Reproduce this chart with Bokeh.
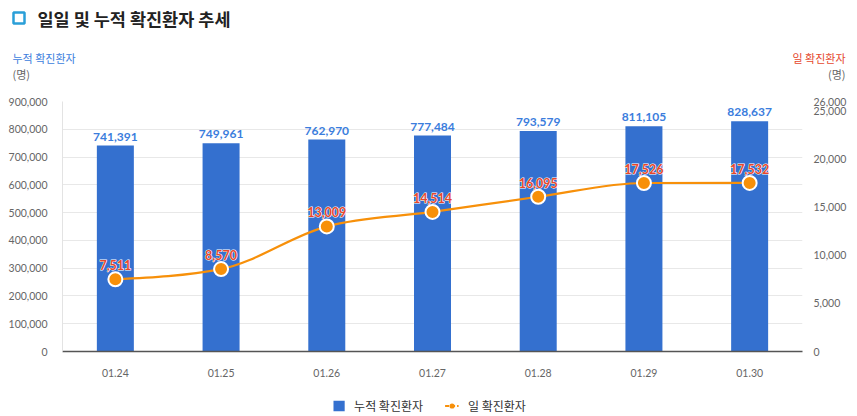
from bokeh.plotting import figure
from bokeh.models import (LinearAxis, Range1d, FixedTicker, NumeralTickFormatter,
                          Legend, LegendItem)
from bokeh.layouts import column, row
from bokeh.core.properties import value
from bokeh.embed import file_html
from bokeh.resources import INLINE

categories = ["01.24", "01.25", "01.26", "01.27", "01.28", "01.29", "01.30"]
cumulative = [741391, 749961, 762970, 777484, 793579, 811105, 828637]
daily = [7511, 8570, 13009, 14514, 16095, 17526, 17532]
left_ticks = [0, 100000, 200000, 300000, 400000, 500000, 600000, 700000, 800000, 900000]
right_ticks = [0, 5000, 10000, 15000, 20000, 25000, 26000]

title_text = "일일 및 누적 확진환자 추세"
left_title = "누적 확진환자"
right_title = "일 확진환자"
unit_text = "(명)"

KR = "Noto Sans CJK KR"
NUM = "Lato"
BAR_C = "#3470cf"
LINE_C = "#f7900a"
BLUE_T = "#3b7ddd"
RED_T = "#e5472d"
W = 857
HEAD_H, MAIN_H, LEG_H = 85, 300, 31
NAN = float("nan")


def bare(fig):
    fig.outline_line_color = None
    fig.border_fill_color = "white"
    fig.xaxis.visible = False
    fig.yaxis.visible = False
    fig.xgrid.visible = False
    fig.ygrid.visible = False


# ---------- header (titles) ----------
hd = figure(width=W, height=HEAD_H, x_range=Range1d(0, W), y_range=Range1d(HEAD_H, 0),
            output_backend="svg", toolbar_location=None, min_border=0)
bare(hd)
hd.quad(left=[13], right=[24], top=[12], bottom=[23], fill_alpha=0,
        line_color="#2a9fd8", line_width=2.5)
hd.text(x=[37], y=[18], text=[title_text], text_font=value(KR), text_font_size="17.5px",
        text_font_style="bold", text_color="#222222", text_baseline="middle")
hd.text(x=[12, 12], y=[57, 73], text=[left_title, unit_text], text_font=value(KR),
        text_font_size="11px", text_color=[BLUE_T, "#666666"], text_baseline="middle")
hd.text(x=[845, 845], y=[57, 73], text=[right_title, unit_text], text_font=value(KR),
        text_font_size="11px", text_color=[RED_T, "#666666"], text_baseline="middle",
        text_align="right")

# ---------- main chart ----------
xs = list(range(len(categories)))
p = figure(width=W, height=MAIN_H, x_range=Range1d(-0.5, len(categories) - 0.5),
           y_range=Range1d(0, 900000), output_backend="svg", toolbar_location=None,
           min_border_left=62, min_border_right=55, min_border_top=16, min_border_bottom=34)
p.outline_line_color = None
p.border_fill_color = "white"
p.extra_y_ranges = {"right": Range1d(0, 26000)}

p.xaxis.ticker = FixedTicker(ticks=xs)
p.xaxis.major_label_overrides = {i: c for i, c in enumerate(categories)}
p.xaxis.axis_line_color = "#555555"
p.xaxis.axis_line_width = 1.5
p.xaxis.major_tick_line_color = None
p.xaxis.minor_tick_line_color = None
p.xaxis.major_label_text_font = NUM
p.xaxis.major_label_text_font_size = "10.5px"
p.xaxis.major_label_text_color = "#666666"
p.xaxis.major_label_standoff = 11

p.yaxis.ticker = FixedTicker(ticks=left_ticks)
p.yaxis.formatter = NumeralTickFormatter(format="0,0")
p.yaxis.axis_line_color = "#e3e3e3"
p.yaxis.major_tick_line_color = None
p.yaxis.minor_tick_line_color = None
p.yaxis.major_label_text_font = NUM
p.yaxis.major_label_text_font_size = "10.5px"
p.yaxis.major_label_text_color = "#666666"
p.yaxis.major_label_standoff = 9

ra = LinearAxis(y_range_name="right", ticker=FixedTicker(ticks=right_ticks),
                formatter=NumeralTickFormatter(format="0,0"))
ra.axis_line_color = None
ra.major_tick_line_color = None
ra.minor_tick_line_color = None
ra.major_label_text_font = NUM
ra.major_label_text_font_size = "10.5px"
ra.major_label_text_color = "#666666"
ra.major_label_standoff = 5
p.add_layout(ra, "right")

p.xgrid.grid_line_color = None
p.ygrid.grid_line_color = "#e8e8e8"

p.vbar(x=xs, top=cumulative, width=0.35, fill_color=BAR_C, line_color=None)
p.text(x=xs, y=cumulative, text=[f"{v:,}" for v in cumulative], text_font=value(NUM),
       text_font_style="bold", text_font_size="12px", text_color=BLUE_T,
       text_align="center", text_baseline="bottom", y_offset=-5)


def sgn(v):
    return (v > 0) - (v < 0)


# smooth monotone curve through the data points (d3 monotoneX construction)
n = len(daily)
sl = [(daily[i + 1] - daily[i]) / (xs[i + 1] - xs[i]) for i in range(n - 1)]
t = [0.0] * n
for i in range(1, n - 1):
    s0, s1 = sl[i - 1], sl[i]
    h0, h1 = xs[i] - xs[i - 1], xs[i + 1] - xs[i]
    pp = (s0 * h1 + s1 * h0) / (h0 + h1)
    t[i] = (sgn(s0) + sgn(s1)) * min(abs(s0), abs(s1), 0.5 * abs(pp))
t[0] = (3 * sl[0] - t[1]) / 2
t[-1] = (3 * sl[-1] - t[-2]) / 2
bx0, by0, bx1, by1, bcx0, bcy0, bcx1, bcy1 = [], [], [], [], [], [], [], []
for i in range(n - 1):
    dx = (xs[i + 1] - xs[i]) / 3
    bx0.append(xs[i]); by0.append(daily[i])
    bx1.append(xs[i + 1]); by1.append(daily[i + 1])
    bcx0.append(xs[i] + dx); bcy0.append(daily[i] + dx * t[i])
    bcx1.append(xs[i + 1] - dx); bcy1.append(daily[i + 1] - dx * t[i + 1])
p.bezier(x0=bx0, y0=by0, x1=bx1, y1=by1, cx0=bcx0, cy0=bcy0, cx1=bcx1, cy1=bcy1,
         line_color=LINE_C, line_width=2.2, y_range_name="right")

p.scatter(x=xs, y=daily, size=14, fill_color=LINE_C, line_color="white",
          line_width=2, y_range_name="right")
daily_lbl = [f"{v:,}" for v in daily]
p.text(x=xs, y=daily, text=daily_lbl, text_font=value(NUM),
       text_font_style="bold", text_font_size="12.5px", text_color="white",
       text_outline_color="white", text_align="center", text_baseline="bottom",
       y_offset=-9, y_range_name="right")
p.text(x=xs, y=daily, text=daily_lbl, text_font=value(NUM),
       text_font_style="bold", text_font_size="12.5px", text_color=RED_T,
       text_align="center", text_baseline="bottom", y_offset=-9, y_range_name="right")

# ---------- legend strip ----------
lg = figure(width=W, height=LEG_H, x_range=Range1d(0, W), y_range=Range1d(LEG_H, 0),
            output_backend="svg", toolbar_location=None, min_border=0)
bare(lg)
r_bar = lg.vbar(x=[NAN], top=[NAN], width=1, fill_color=BAR_C, line_color=None)
r_line = lg.line(x=[NAN, NAN], y=[NAN, NAN], line_color=LINE_C, line_width=2.2,
                 line_dash="4 2")
r_dot = lg.scatter(x=[NAN], y=[NAN], size=9, fill_color=LINE_C, line_color=None)
legend = Legend(items=[LegendItem(label=left_title, renderers=[r_bar]),
                       LegendItem(label=right_title, renderers=[r_line, r_dot])],
                orientation="horizontal", location="bottom_center", padding=0, margin=2,
                spacing=22, label_standoff=9, glyph_width=14, glyph_height=13,
                label_text_font=KR, label_text_font_size="12px", label_text_color="#333333",
                border_line_color=None, background_fill_alpha=0)
lg.add_layout(legend, "center")

layout = column(row(hd), p, row(lg), spacing=0)
open("out.html", "w").write(file_html(layout, INLINE))
